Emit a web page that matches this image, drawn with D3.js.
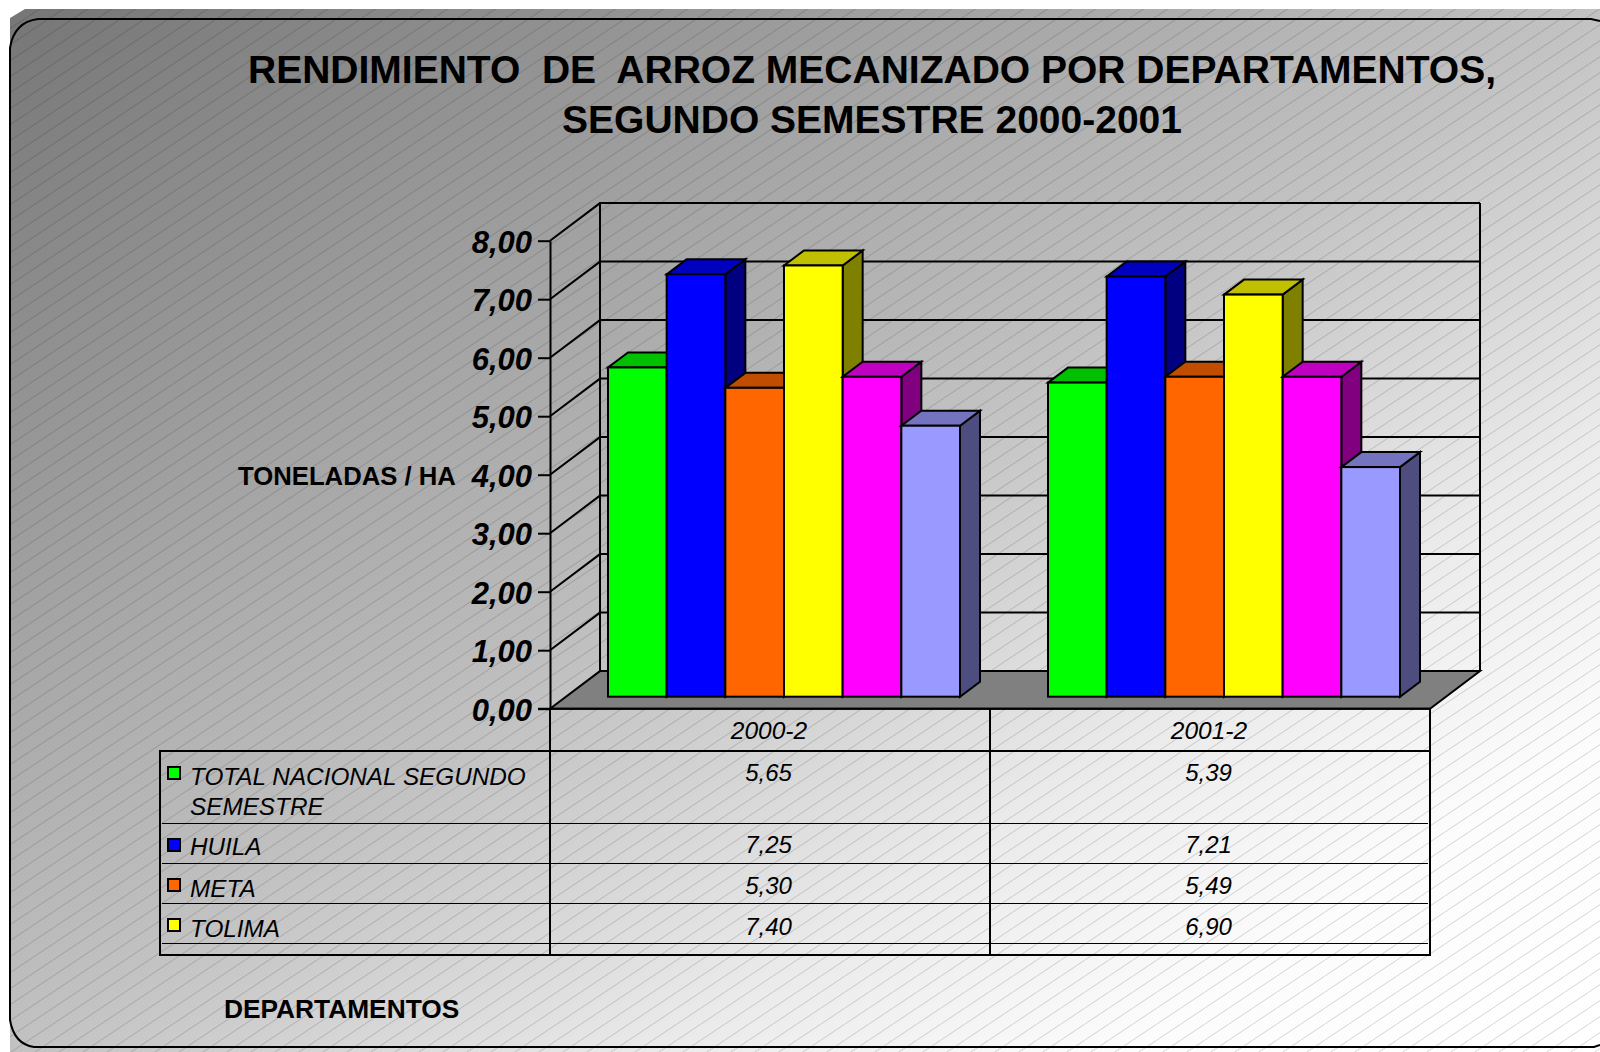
<!DOCTYPE html>
<html>
<head>
<meta charset="utf-8">
<title>Rendimiento de arroz mecanizado</title>
<script src="https://cdn.jsdelivr.net/npm/d3@7"></script>
<style>
  html, body { margin: 0; padding: 0; background: #fff; }
  svg { display: block; }
  text { font-family: "Liberation Sans", Arial, sans-serif; fill: #000; white-space: pre; }
</style>
</head>
<body>
<svg id="chart" width="1600" height="1052"></svg>
<script>
const categories = ['2000-2', '2001-2'];
const yTicks = [0, 1, 2, 3, 4, 5, 6, 7, 8];
const titleLines = ['RENDIMIENTO  DE  ARROZ MECANIZADO POR DEPARTAMENTOS,', 'SEGUNDO SEMESTRE 2000-2001'];

const legendNames = [['TOTAL NACIONAL SEGUNDO', 'SEMESTRE'], ['HUILA'], ['META'], ['TOLIMA']];
const totalNacional = [5.65, 5.39];
const huila = [7.25, 7.21];
const meta = [5.30, 5.49];
const tolima = [7.40, 6.90];
const quintaSerie = [5.49, 5.49];
const sextaSerie = [4.65, 3.94];
const allSeries = [totalNacional, huila, meta, tolima, quintaSerie, sextaSerie];

const frontColors = ['#00ff00', '#0000ff', '#ff6600', '#ffff00', '#ff00ff', '#9999ff'];
const topColors = ['#00c000', '#0000c0', '#c04d00', '#c0c000', '#c000c0', '#7373c0'];
const sideColors = ['#008000', '#000080', '#804000', '#808000', '#800080', '#4d4d80'];

const svg = d3.select('#chart');
const defs = svg.append('defs');

// ---- background ----
const grad = defs.append('linearGradient').attr('id', 'bg')
    .attr('x1', 0).attr('y1', 0).attr('x2', 1).attr('y2', 1);
grad.append('stop').attr('offset', 0).attr('stop-color', '#767676');
grad.append('stop').attr('offset', 0.5).attr('stop-color', '#c2c2c2');
grad.append('stop').attr('offset', 0.7).attr('stop-color', '#eaeaea');
grad.append('stop').attr('offset', 0.85).attr('stop-color', '#fcfcfc');
grad.append('stop').attr('offset', 1).attr('stop-color', '#ffffff');

const hatch = defs.append('pattern').attr('id', 'hatch')
    .attr('patternUnits', 'userSpaceOnUse')
    .attr('width', 24).attr('height', 16)
    .attr('patternTransform', 'translate(5,0)');
hatch.append('path').attr('d', 'M-6,20L30,-4')
    .attr('stroke', 'rgba(0,0,0,0.16)').attr('stroke-width', 1)
    .attr('fill', 'none');

const bgShape = 'M10,18L25,9L1600,9L1600,1052L10,1052Z';
svg.append('path').attr('d', bgShape).attr('fill', 'url(#bg)');
svg.append('path').attr('d', bgShape).attr('fill', 'url(#hatch)');

const border = d3.path();
border.moveTo(1600, 21);
border.lineTo(1591, 19);
border.lineTo(38, 19);
border.quadraticCurveTo(14, 22, 10, 48);
border.lineTo(10, 1020);
border.quadraticCurveTo(14, 1044, 34, 1047);
border.lineTo(1594, 1047);
border.lineTo(1600, 1045);
svg.append('path').attr('d', border.toString())
    .attr('fill', 'none').attr('stroke', '#000').attr('stroke-width', 2);

// ---- title ----
svg.append('g').selectAll('text').data(titleLines).join('text')
    .attr('x', 872)
    .attr('y', (d, i) => 83 + i * 50)
    .attr('text-anchor', 'middle')
    .attr('font-size', 39)
    .attr('font-weight', 'bold')
    .text(d => d);

// ---- 3d frame ----
const depth = { x: 50, y: 37.6 };
const barDepth = { x: 20, y: 15 };
const barShift = { x: 16, y: 12 };

const x = d3.scaleBand().domain(categories).range([550, 1430]);
const xSeries = d3.scaleBand().domain(d3.range(allSeries.length)).range([42, 394]);
const y = d3.scaleLinear().domain([0, 8]).range([708.7, 240.7]);
// bars stand a little behind the front edge of the floor
const yBar = d3.scaleLinear().domain([0, 8]).range([696.7, 230.5]);

const frame = svg.append('g').attr('fill', 'none').attr('stroke', '#000').attr('stroke-width', 2);

frame.append('path')
    .attr('d', d3.line()([[550, y(0)], [550 + depth.x, y(0) - depth.y], [1430 + depth.x, y(0) - depth.y], [1430, y(0)]]) + 'Z')
    .attr('fill', '#808080');

frame.selectAll('.grid').data(yTicks.slice(1)).join('path')
    .attr('class', 'grid')
    .attr('d', d => d3.line()([[550, y(d)], [550 + depth.x, y(d) - depth.y], [1430 + depth.x, y(d) - depth.y]]));

frame.append('line')
    .attr('x1', 550 + depth.x).attr('x2', 550 + depth.x)
    .attr('y1', y(8) - depth.y).attr('y2', y(0) - depth.y);
frame.append('line')
    .attr('x1', 1430 + depth.x).attr('x2', 1430 + depth.x)
    .attr('y1', y(8) - depth.y).attr('y2', y(0) - depth.y);

// ---- bars ----
const barsLayer = svg.append('g').attr('stroke', '#000').attr('stroke-width', 2).attr('stroke-linejoin', 'miter');

categories.forEach((cat, c) => {
    allSeries.forEach((serie, s) => {
        const x0 = x(cat) + xSeries(s) + barShift.x;
        const x1 = x0 + xSeries.bandwidth();
        const top = yBar(serie[c]);
        const base = yBar(0);
        const bar = barsLayer.append('g');
        bar.append('path')
            .attr('d', d3.line()([[x1, top], [x1 + barDepth.x, top - barDepth.y], [x1 + barDepth.x, base - barDepth.y], [x1, base]]) + 'Z')
            .attr('fill', sideColors[s]);
        bar.append('path')
            .attr('d', d3.line()([[x0, top], [x0 + barDepth.x, top - barDepth.y], [x1 + barDepth.x, top - barDepth.y], [x1, top]]) + 'Z')
            .attr('fill', topColors[s]);
        bar.append('rect')
            .attr('x', x0).attr('y', top)
            .attr('width', x1 - x0).attr('height', base - top)
            .attr('fill', frontColors[s]);
    });
});

// ---- y axis ----
const axis = svg.append('g')
    .attr('transform', 'translate(550,0)')
    .call(d3.axisLeft(y)
        .tickValues(yTicks)
        .tickSizeInner(12)
        .tickSizeOuter(0)
        .tickPadding(6)
        .tickFormat(d => d.toFixed(2).replace('.', ',')));
axis.selectAll('path, line').attr('stroke', '#000').attr('stroke-width', 2);
axis.selectAll('text')
    .attr('font-size', 31)
    .attr('font-weight', 'bold')
    .attr('font-style', 'italic')
    .attr('dy', '0.38em')
    .style('font-family', '"Liberation Sans", Arial, sans-serif');

svg.append('line')
    .attr('x1', 538).attr('x2', 1430)
    .attr('y1', y(0)).attr('y2', y(0))
    .attr('stroke', '#000').attr('stroke-width', 2);

// ---- data table ----
const rowLines = [823.5, 863.5, 903.5, 943.5];
const rowBaselines = [781, 853, 894, 935];
const legendBaselines = [785, 855, 897, 937];
const swatchTops = [767, 839, 879, 919];
const tableTop = 751;
const tableBottom = 955;

const table = svg.append('g').attr('fill', 'none').attr('stroke', '#000');
table.append('rect')
    .attr('x', 160).attr('y', tableTop)
    .attr('width', 1270).attr('height', tableBottom - tableTop)
    .attr('stroke-width', 2);
x.domain().concat('end').forEach((cat) => {
    const xPos = cat === 'end' ? 1430 : x(cat);
    table.append('line')
        .attr('x1', xPos).attr('x2', xPos)
        .attr('y1', y(0)).attr('y2', tableBottom)
        .attr('stroke-width', 2);
});
table.selectAll('.row').data(rowLines).join('line')
    .attr('class', 'row')
    .attr('x1', 162).attr('x2', 1428)
    .attr('y1', d => d).attr('y2', d => d)
    .attr('stroke-width', 1);

const tableText = svg.append('g').attr('font-size', 24.3).attr('font-style', 'italic');

tableText.selectAll('.cat').data(categories).join('text')
    .attr('class', 'cat')
    .attr('x', d => x(d) + x.bandwidth() / 2 - 1)
    .attr('y', 739)
    .attr('text-anchor', 'middle')
    .attr('font-size', 24.5)
    .text(d => d);

legendNames.forEach((lines, r) => {
    svg.append('rect')
        .attr('x', 168).attr('y', swatchTops[r])
        .attr('width', 12).attr('height', 12)
        .attr('fill', frontColors[r])
        .attr('stroke', '#000').attr('stroke-width', 2);
    lines.forEach((line, l) => {
        tableText.append('text')
            .attr('x', 190)
            .attr('y', legendBaselines[r] + l * 30)
            .text(line);
    });
    categories.forEach((cat, c) => {
        tableText.append('text')
            .attr('x', x(cat) + x.bandwidth() / 2 - 1.5)
            .attr('y', rowBaselines[r])
            .attr('text-anchor', 'middle')
            .attr('font-size', 24)
            .text(allSeries[r][c].toFixed(2).replace('.', ','));
    });
});

// ---- axis titles ----
svg.append('text')
    .attr('x', 238).attr('y', 485)
    .attr('font-size', 25.7).attr('font-weight', 'bold')
    .text('TONELADAS / HA');
svg.append('text')
    .attr('x', 224).attr('y', 1018)
    .attr('font-size', 26.3).attr('font-weight', 'bold')
    .text('DEPARTAMENTOS');
</script>
</body>
</html>
